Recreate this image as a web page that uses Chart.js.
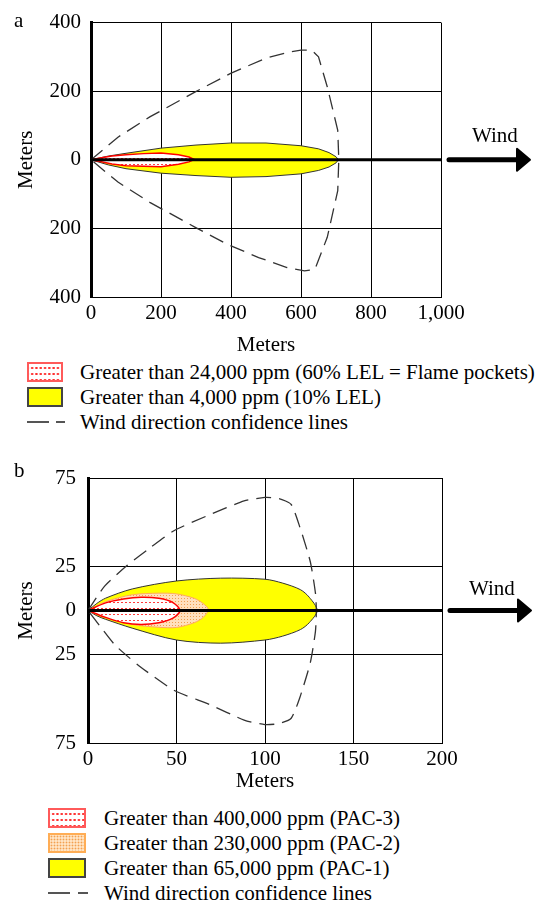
<!DOCTYPE html>
<html><head><meta charset="utf-8">
<script src="https://cdn.jsdelivr.net/npm/chart.js@4.4.0/dist/chart.umd.min.js"></script>
<style>
html,body{margin:0;padding:0;background:#fff;}
body{width:549px;height:900px;position:relative;overflow:hidden;font-family:'Liberation Serif','Times New Roman',serif;color:#000;}
.t{position:absolute;font-size:21px;line-height:24px;white-space:nowrap;}
canvas{position:absolute;left:0;}
.sw{position:absolute;box-sizing:border-box;height:20px;}
.red{background-color:#fff;background-image:radial-gradient(circle,#ff2a2a 0.9px,transparent 1.3px);background-size:4.3px 6px;background-position:1px 1px;border:2px solid #ff5a5a;}
.org{background-color:#ffe3c2;background-image:radial-gradient(circle,#f2a050 0.8px,transparent 1.1px);background-size:3px 3px;border:2px solid #ffad55;}
.yel{background-color:#ffff00;border:2px solid #444;}
.dash{position:absolute;height:2px;background:#555;}
</style></head><body>
<canvas id="ca" width="549" height="360" style="top:0"></canvas>
<canvas id="cb" width="549" height="350" style="top:450px"></canvas>

<div class="t" style="left:14px;top:8px">a</div>
<div class="t" style="left:14px;top:458px">b</div>
<div class="t" style="left:472px;top:123px">Wind</div>
<div class="t" style="left:469px;top:576px">Wind</div>

<!-- legend a -->
<div class="sw red" style="left:27px;top:362px;width:36px"></div>
<div class="t" style="left:80px;top:360px">Greater than 24,000 ppm (60% LEL = Flame pockets)</div>
<div class="sw yel" style="left:27px;top:387px;width:36px"></div>
<div class="t" style="left:80px;top:385px">Greater than 4,000 ppm (10% LEL)</div>
<div class="dash" style="left:27px;top:421px;width:22px"></div>
<div class="dash" style="left:56px;top:421px;width:9px"></div>
<div class="t" style="left:80px;top:410px">Wind direction confidence lines</div>

<!-- legend b -->
<div class="sw red" style="left:48px;top:808px;width:38px"></div>
<div class="t" style="left:104px;top:806px">Greater than 400,000 ppm (PAC-3)</div>
<div class="sw org" style="left:48px;top:833px;width:38px"></div>
<div class="t" style="left:104px;top:831px">Greater than 230,000 ppm (PAC-2)</div>
<div class="sw yel" style="left:48px;top:858px;width:38px"></div>
<div class="t" style="left:104px;top:856px">Greater than 65,000 ppm (PAC-1)</div>
<div class="dash" style="left:48px;top:892px;width:22px"></div>
<div class="dash" style="left:78px;top:892px;width:10px"></div>
<div class="t" style="left:104px;top:881px">Wind direction confidence lines</div>

<script>
// ---------- tick values ----------
const xTicksA = [0, 200, 400, 600, 800, 1000];
const yTicksA = [-400, -200, 0, 200, 400];
const xTicksB = [0, 50, 100, 150, 200];
const yTicksB = [-75, -25, 0, 25, 75];

// ---------- panel a (meters) ----------
const centerA = [[0, 0], [1000, 0]];
const confidenceA = [[0,0],[77,66],[168,125],[298,198],[399,252],[499,296],[570,315],[600,320],[630,320],[650,300],[675,213],[705,86],[708,0],[705,-90],[675,-226],[640,-319],[610,-324],[560,-314],[479,-285],[389,-246],[298,-197],[168,-124],[77,-65],[0,0]];
const lel10A = [[0,0],[50,11],[100,19],[200,34],[300,43],[400,49],[500,49],[600,41],[650,32],[680,21],[700,9],[707,0],[700,-9],[680,-21],[650,-31],[600,-41],[500,-49],[400,-51],[300,-46],[200,-39],[100,-26],[50,-15],[0,0]];
const lel60A = [[0,0],[30,6],[60,11],[100,15],[150,18],[200,20],[250,15],[280,8],[295,1],[280,-6],[250,-13],[200,-20],[150,-19],[100,-17],[60,-12],[30,-6],[0,0]];

// ---------- panel b (meters) ----------
const centerB = [[0, 0], [200, 0]];
const confidenceB = [[0,0],[9.4,13.8],[22.2,25.6],[35,35.4],[48.8,45.3],[68.5,54.1],[88.2,62],[100,64],[107.9,63.4],[114.8,60],[119.7,47.2],[125.6,27.6],[128.5,9.8],[129,0],[128.5,-11.8],[125.6,-29.5],[119.7,-49.2],[114.8,-61],[107.9,-64],[100,-64.6],[88.2,-62],[68.5,-53.1],[48.8,-45.3],[29.1,-31.5],[15.4,-19.7],[7.5,-9.8],[0,0]];
const pac1B = [[0,0],[5,4],[10,7],[25,12.2],[50,16.7],[75,18.3],[100,17.7],[110,15.5],[120,11.8],[125,7.5],[129.5,0],[125,-6.9],[120,-10.8],[110,-14.5],[100,-16.7],[75,-18.5],[50,-16.7],[25,-10],[10,-5],[5,-3],[0,0]];
const pac2B = [[0,0],[10,5],[25,8.9],[40,9.8],[50,9.4],[60,6.9],[65,4],[68,0.5],[65,-4],[60,-6.9],[50,-9.6],[40,-9.5],[25,-7.9],[10,-4],[0,0]];
const pac3B = [[0,0],[10,4.3],[20,6.5],[30,7.5],[40,6.9],[48,4.5],[52,0],[48,-4.3],[40,-6.9],[30,-7.9],[20,-6.9],[10,-3.9],[0,0]];

const FONT = {family: "'Liberation Serif','Times New Roman',serif", size: 21};
Chart.defaults.font.family = FONT.family;
Chart.defaults.color = '#000';

function makePattern(w, h, bg, dot, dots, dw) {
  const c = document.createElement('canvas');
  c.width = w; c.height = h;
  const g = c.getContext('2d');
  g.fillStyle = bg; g.fillRect(0, 0, w, h);
  g.fillStyle = dot;
  dots.forEach(([x, y]) => g.fillRect(x, y, dw, 1));
  return g.createPattern(c, 'repeat');
}
const redPattern = makePattern(4, 6, '#ffffff', '#ff3b3b', [[1, 2]], 2);
const orangePattern = makePattern(3, 3, '#ffe0bd', '#f0a050', [[1, 1]], 1);

const pts = arr => arr.map(([x, y]) => ({x, y}));

const windArrow = {
  id: 'windArrow',
  afterDraw(chart) {
    const {ctx, chartArea} = chart;
    const y = chart.scales.y.getPixelForValue(0);
    const x0 = chartArea.right + 8, tip = chartArea.right + 89;
    ctx.save();
    ctx.strokeStyle = '#000'; ctx.fillStyle = '#000';
    ctx.lineWidth = 5; ctx.lineCap = 'round'; ctx.lineJoin = 'round';
    ctx.beginPath(); ctx.moveTo(x0, y); ctx.lineTo(tip - 10, y); ctx.stroke();
    ctx.lineWidth = 2;
    ctx.beginPath(); ctx.moveTo(tip, y); ctx.lineTo(tip - 13, y - 11); ctx.lineTo(tip - 13, y + 11); ctx.closePath();
    ctx.fill(); ctx.stroke();
    ctx.restore();
  }
};

function lineDs(data, opts) {
  return Object.assign({data: pts(data), showLine: true, pointRadius: 0, pointHoverRadius: 0, fill: false, tension: 0}, opts);
}

function makeChart(id, cfg) {
  const setTicks = arr => scale => { scale.ticks = arr.map(v => ({value: v})); };
  return new Chart(document.getElementById(id), {
    type: 'scatter',
    data: {datasets: cfg.datasets},
    options: {
      responsive: false, animation: false, events: [],
      layout: {padding: cfg.padding},
      plugins: {legend: {display: false}, tooltip: {enabled: false}},
      scales: {
        x: {
          type: 'linear', min: cfg.xMin, max: cfg.xMax,
          afterBuildTicks: setTicks(cfg.xTicks),
          ticks: {font: FONT, color: '#000', padding: cfg.xTickPad, maxRotation: 0,
                  callback: v => v.toLocaleString('en-US')},
          grid: {color: '#000', lineWidth: 1, drawTicks: false},
          border: {color: '#000', width: 1},
          title: {display: true, text: 'Meters', font: FONT, color: '#000', padding: {top: 0, bottom: cfg.xTitlePad}},
          afterFit: s => { s.height = cfg.xHeight; }
        },
        y: {
          type: 'linear', min: cfg.yMin, max: cfg.yMax,
          afterBuildTicks: setTicks(cfg.yTicks),
          ticks: {font: FONT, color: '#000', padding: cfg.yTickPad, callback: v => Math.abs(v)},
          grid: {color: '#000', lineWidth: 1, drawTicks: false},
          border: {color: '#000', width: 3},
          title: {display: true, text: 'Meters', font: FONT, color: '#000', padding: {top: 14, bottom: 0}},
          afterFit: s => { s.width = cfg.yWidth; }
        }
      }
    },
    plugins: [windArrow]
  });
}

makeChart('ca', {
  xMin: 0, xMax: 1000, yMin: -400, yMax: 400,
  xTicks: xTicksA, yTicks: yTicksA,
  padding: {left: 0, right: 108, top: 18, bottom: 0},
  xHeight: 63, yWidth: 91, xTickPad: 4, yTickPad: 10, xTitlePad: 2,
  datasets: [
    lineDs(centerA, {borderColor: '#000', borderWidth: 3}),
    lineDs(confidenceA, {borderColor: '#333', borderWidth: 1.3, borderDash: [15, 8]}),
    lineDs(lel60A, {borderColor: '#ff0000', borderWidth: 1.5, backgroundColor: redPattern, fill: 'shape'}),
    lineDs(lel10A, {borderColor: '#333', borderWidth: 1, backgroundColor: '#ffff00', fill: 'shape'})
  ]
});

makeChart('cb', {
  xMin: 0, xMax: 200, yMin: -75, yMax: 75,
  xTicks: xTicksB, yTicks: yTicksB,
  padding: {left: 0, right: 107, top: 28, bottom: 0},
  xHeight: 57, yWidth: 88, xTickPad: 4, yTickPad: 12, xTitlePad: 6,
  datasets: [
    lineDs(centerB, {borderColor: '#000', borderWidth: 3}),
    lineDs(confidenceB, {borderColor: '#333', borderWidth: 1.3, borderDash: [15, 8], tension: 0.2}),
    lineDs(pac3B, {borderColor: '#ff0000', borderWidth: 1.5, backgroundColor: redPattern, fill: 'shape', tension: 0.3}),
    lineDs(pac2B, {borderColor: '#ffaa60', borderWidth: 1, backgroundColor: orangePattern, fill: 'shape', tension: 0.3}),
    lineDs(pac1B, {borderColor: '#333', borderWidth: 1, backgroundColor: '#ffff00', fill: 'shape', tension: 0.3})
  ]
});
</script>
</body></html>
